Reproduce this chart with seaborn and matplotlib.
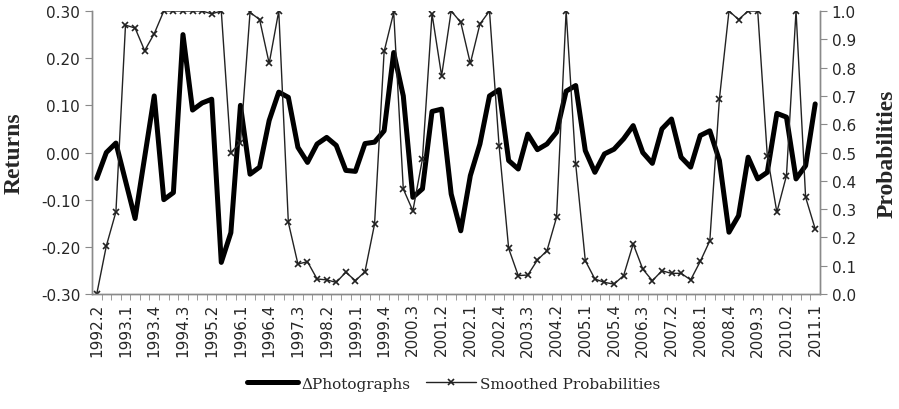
import numpy as np
import pandas as pd
import matplotlib.pyplot as plt
import seaborn as sns

# quarters 1992.2 .. 2011.1
quarters = [f"{y}.{q}" for y in range(1992, 2012) for q in range(1, 5)]
quarters = quarters[quarters.index("1992.2"):quarters.index("2011.1") + 1]

photographs = [-0.055, 0.00, 0.02, -0.06, -0.14, -0.01, 0.12, -0.10, -0.085, 0.25,
               0.09, 0.105, 0.113, -0.233, -0.17,
               0.10, -0.046, -0.031, 0.068, 0.128, 0.117, 0.011, -0.021, 0.018, 0.032,
               0.015, -0.038, -0.04, 0.019, 0.022,
               0.046, 0.212, 0.12, -0.095, -0.077, 0.087, 0.092, -0.088, -0.166, -0.049,
               0.018, 0.12, 0.133, -0.017, -0.035,
               0.039, 0.006, 0.018, 0.043, 0.13, 0.142, 0.004, -0.042, -0.003, 0.007,
               0.029, 0.057, 0.0, -0.023, 0.05,
               0.071, -0.01, -0.031, 0.036, 0.046, -0.017, -0.169, -0.134, -0.01, -0.056,
               -0.042, 0.083, 0.075, -0.056, -0.028, 0.103]

smoothed = [0.0, 0.17, 0.29, 0.95, 0.94, 0.86, 0.92, 1.0, 1.0, 1.0,
            1.0, 1.0, 0.99, 1.0, 0.50,
            0.535, 0.995, 0.97, 0.815, 1.0, 0.253, 0.106, 0.114, 0.053, 0.05,
            0.041, 0.077, 0.047, 0.079, 0.247,
            0.857, 0.995, 0.371, 0.294, 0.477, 0.99, 0.771, 1.0, 0.96, 0.815,
            0.954, 1.0, 0.524, 0.161, 0.065,
            0.067, 0.12, 0.153, 0.271, 1.0, 0.459, 0.118, 0.053, 0.041, 0.035,
            0.065, 0.177, 0.088, 0.047, 0.082,
            0.073, 0.073, 0.05, 0.115, 0.188, 0.689, 1.0, 0.97, 1.0, 1.0,
            0.489, 0.289, 0.418, 1.0, 0.342, 0.23]

df = pd.DataFrame({"pos": np.arange(len(quarters)), "quarter": quarters,
                   "photo": photographs, "prob": smoothed})

sns.set_style("white")
plt.rcParams["font.family"] = ["DejaVu Sans"]

fig = plt.figure(figsize=(8.99, 4.10), dpi=100)
ax = fig.add_axes([0.1023, 0.2805, 0.8098, 0.6902])
ax2 = ax.twinx()

sns.lineplot(data=df, x="pos", y="photo", ax=ax, color="black", linewidth=3.6,
             solid_joinstyle="round", label="\u0394Photographs", legend=False)
sns.lineplot(data=df, x="pos", y="prob", ax=ax2, color="#222222", linewidth=1.0,
             marker="x", markersize=5, markeredgewidth=1.2, markeredgecolor="#222222",
             label="Smoothed Probabilities", legend=False)

grey = "#8a8a8a"
ax.set_xlim(-0.5, len(quarters) - 0.5)
ax.set_ylim(-0.30, 0.30)
ax2.set_ylim(0.0, 1.0)
ax.set_yticks(np.arange(-0.30, 0.301, 0.10))
ax.set_yticklabels([f"{v:.2f}" for v in np.arange(-0.30, 0.301, 0.10)])
ax2.set_yticks(np.arange(0, 1.01, 0.1))
ax2.set_yticklabels([f"{v:.1f}" for v in np.arange(0, 1.01, 0.1)])

# labels every 3rd quarter, ticks between quarters
ax.set_xticks(df["pos"][::3])
ax.set_xticklabels(df["quarter"][::3], rotation=90)
ax.set_xticks(df["pos"].values[:-1] + 0.5, minor=True)
ax.tick_params(axis="x", which="major", length=0, pad=6, labelsize=11)
ax.tick_params(axis="x", which="minor", length=4, direction="out", color=grey, bottom=True)
ax.tick_params(axis="y", length=5, direction="out", color=grey, labelsize=11, left=True)
ax2.tick_params(axis="y", length=5, direction="out", color=grey, labelsize=11, right=True)

for a in (ax, ax2):
    a.spines["top"].set_visible(False)
    for s in ("left", "right", "bottom"):
        a.spines[s].set_color(grey)
        a.spines[s].set_linewidth(1.0)
    a.set_xlabel("")

ax.set_ylabel("Returns", fontsize=17, fontweight="bold", family="Liberation Serif")
ax2.set_ylabel("Probabilities", fontsize=17, fontweight="bold", family="Liberation Serif")
ax.yaxis.set_label_coords(-0.092, 0.5)
ax2.yaxis.set_label_coords(1.078, 0.5)

h1, l1 = ax.get_legend_handles_labels()
h2, l2 = ax2.get_legend_handles_labels()
fig.legend(h1 + h2, l1 + l2, loc="center", bbox_to_anchor=(0.505, 0.062), ncol=2,
           frameon=False, handlelength=3.3, handletextpad=0.25, columnspacing=1.0,
           prop={"family": "DejaVu Serif", "size": 11})

fig.savefig("out.png", dpi=100)
